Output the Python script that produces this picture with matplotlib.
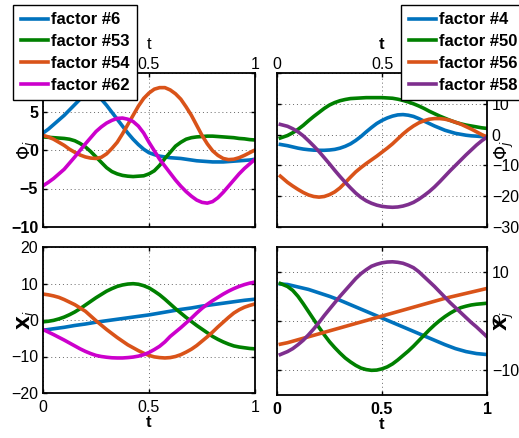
import matplotlib
matplotlib.use('Agg')
import matplotlib.pyplot as plt

plt.rcParams['font.family'] = ['Liberation Sans', 'DejaVu Sans']
plt.rcParams['mathtext.fontset'] = 'dejavusans'

# time grids
t_left = [0.0, 0.025, 0.05, 0.075, 0.1, 0.125, 0.15, 0.175, 0.2, 0.225,
          0.25, 0.275, 0.3, 0.325, 0.35, 0.375, 0.4, 0.425, 0.45, 0.475,
          0.5, 0.525, 0.55, 0.575, 0.6, 0.625, 0.65, 0.675, 0.7, 0.725,
          0.75, 0.775, 0.8, 0.825, 0.85, 0.875, 0.9, 0.925, 0.95, 0.975, 1.0]
t_right = [0.016, 0.05, 0.075, 0.1, 0.125, 0.15, 0.175, 0.2, 0.225,
           0.25, 0.275, 0.3, 0.325, 0.35, 0.375, 0.4, 0.425, 0.45, 0.475,
           0.5, 0.525, 0.55, 0.575, 0.6, 0.625, 0.65, 0.675, 0.7, 0.725,
           0.75, 0.775, 0.8, 0.825, 0.85, 0.875, 0.9, 0.925, 0.95, 0.975, 1.0]

# top left, phi_i
labels_tl = ['factor #6', 'factor #53', 'factor #54', 'factor #62']
phi_6 = [2.2, 2.7, 3.3, 3.9, 4.5, 5.2, 5.9, 6.6, 7.2, 7.5,
         7.3, 6.6, 5.8, 4.9, 4.0, 3.1, 2.2, 1.4, 0.7, 0.1,
         -0.35, -0.6, -0.8, -0.9, -1.0, -1.05, -1.1, -1.2, -1.3, -1.4,
         -1.45, -1.5, -1.55, -1.55, -1.55, -1.5, -1.45, -1.4, -1.35, -1.3, -1.2]
phi_53 = [1.7, 1.65, 1.6, 1.55, 1.5, 1.4, 1.2, 0.85, 0.4, -0.2,
          -0.9, -1.6, -2.3, -2.8, -3.1, -3.3, -3.4, -3.45, -3.4, -3.35,
          -3.1, -2.7, -2.0, -1.1, -0.3, 0.5, 1.0, 1.4, 1.6, 1.7,
          1.75, 1.8, 1.8, 1.75, 1.7, 1.65, 1.6, 1.5, 1.45, 1.35, 1.3]
phi_54 = [1.9, 1.7, 1.4, 1.0, 0.6, 0.1, -0.3, -0.65, -0.9, -1.05,
          -1.1, -0.95, -0.5, 0.2, 1.0, 2.1, 3.3, 4.5, 5.7, 6.7,
          7.4, 7.9, 8.1, 8.1, 7.8, 7.3, 6.6, 5.6, 4.5, 3.2,
          1.9, 0.8, -0.1, -0.7, -1.1, -1.25, -1.2, -1.0, -0.7, -0.35, 0.0]
phi_62 = [-4.65, -4.2, -3.7, -3.1, -2.5, -1.7, -0.9, -0.05, 0.8, 1.6,
          2.4, 3.0, 3.5, 3.85, 4.1, 4.15, 4.0, 3.7, 3.1, 2.2,
          1.0, -0.1, -1.2, -2.1, -3.0, -3.9, -4.7, -5.4, -6.0, -6.5,
          -6.8, -6.9, -6.7, -6.2, -5.5, -4.7, -3.9, -3.1, -2.4, -1.8, -1.2]

# top right, phi_j
labels_tr = ['factor #4', 'factor #50', 'factor #56', 'factor #58']
phi_4 = [-3.2, -3.6, -4.0, -4.4, -4.7, -4.9, -5.05, -5.1, -5.1,
         -5.0, -4.8, -4.4, -3.8, -3.0, -1.9, -0.6, 0.9, 2.3, 3.6,
         4.6, 5.4, 6.0, 6.4, 6.5, 6.3, 5.9, 5.2, 4.4, 3.6,
         2.8, 2.1, 1.4, 0.9, 0.4, 0.1, -0.2, -0.4, -0.5, -0.65, -0.8]
phi_50 = [-1.1, -0.3, 0.6, 1.7, 3.0, 4.5, 5.9, 7.2, 8.5,
          9.6, 10.4, 11.0, 11.4, 11.7, 11.8, 11.9, 12.0, 12.0, 12.0,
          12.0, 11.9, 11.8, 11.5, 11.1, 10.6, 10.0, 9.3, 8.5, 7.6,
          6.8, 6.0, 5.3, 4.6, 4.0, 3.5, 3.1, 2.8, 2.5, 2.2, 2.0]
phi_56 = [-13.5, -15.5, -16.7, -17.8, -18.8, -19.6, -20.1, -20.3, -20.1,
          -19.5, -18.6, -17.3, -15.6, -13.8, -12.1, -10.7, -9.4, -8.2, -7.0,
          -5.7, -4.4, -3.0, -1.4, 0.2, 1.6, 2.8, 3.8, 4.5, 5.0,
          5.2, 5.2, 5.0, 4.6, 4.0, 3.4, 2.6, 1.8, 0.9, 0.0, -0.8]
phi_58 = [3.3, 2.7, 1.9, 0.9, -0.4, -2.0, -3.7, -5.5, -7.5,
          -9.5, -11.6, -13.6, -15.5, -17.3, -19.0, -20.4, -21.5, -22.3, -22.9,
          -23.3, -23.5, -23.6, -23.5, -23.2, -22.7, -22.0, -21.0, -19.8, -18.5,
          -17.0, -15.3, -13.5, -11.7, -10.0, -8.3, -6.6, -5.0, -3.4, -2.0, -0.8]

# bottom left, x_i
x_6 = [-2.8, -2.6, -2.4, -2.2, -2.0, -1.75, -1.5, -1.3, -1.1, -0.85,
       -0.6, -0.4, -0.2, 0.0, 0.2, 0.4, 0.6, 0.8, 1.0, 1.2,
       1.4, 1.65, 1.9, 2.15, 2.4, 2.65, 2.9, 3.1, 3.3, 3.55,
       3.8, 4.0, 4.2, 4.4, 4.6, 4.8, 5.0, 5.2, 5.4, 5.55, 5.7]
x_53 = [-0.5, -0.35, -0.1, 0.3, 0.8, 1.45, 2.2, 3.1, 4.1, 5.1,
        6.1, 7.0, 7.9, 8.6, 9.2, 9.6, 9.85, 9.95, 9.8, 9.4,
        8.8, 7.9, 6.9, 5.7, 4.4, 3.1, 1.9, 0.7, -0.4, -1.5,
        -2.5, -3.5, -4.5, -5.3, -6.0, -6.6, -7.1, -7.4, -7.6, -7.8, -7.9]
x_54 = [7.1, 6.9, 6.6, 6.2, 5.6, 4.9, 4.2, 3.3, 2.4, 1.1,
        -0.2, -1.4, -2.6, -3.7, -4.8, -5.8, -6.8, -7.6, -8.4, -9.1,
        -9.7, -10.1, -10.3, -10.4, -10.3, -10.0, -9.5, -8.8, -8.0, -7.0,
        -5.8, -4.6, -3.3, -1.9, -0.6, 0.7, 1.9, 2.8, 3.5, 4.0, 4.4]
x_62 = [-2.6, -3.3, -4.0, -4.75, -5.5, -6.3, -7.1, -7.9, -8.6, -9.2,
        -9.7, -10.0, -10.2, -10.35, -10.4, -10.4, -10.3, -10.15, -9.9, -9.5,
        -8.9, -8.1, -7.2, -6.0, -4.5, -3.3, -2.1, -0.8, 0.5, 1.9,
        3.2, 4.3, 5.3, 6.2, 7.1, 7.9, 8.6, 9.2, 9.7, 10.1, 10.4]

# bottom right, x_j
x_4 = [7.5, 7.4, 7.15, 6.9, 6.65, 6.4, 6.05, 5.7, 5.35,
       5.0, 4.6, 4.2, 3.75, 3.3, 2.85, 2.4, 1.95, 1.5, 1.05,
       0.6, 0.15, -0.3, -0.75, -1.2, -1.65, -2.1, -2.55, -3.0, -3.45,
       -3.9, -4.35, -4.8, -5.2, -5.6, -5.9, -6.2, -6.4, -6.6, -6.7, -6.8]
x_50 = [7.6, 7.0, 6.2, 5.0, 3.5, 1.9, 0.3, -1.3, -2.8,
        -4.2, -5.4, -6.5, -7.5, -8.3, -9.0, -9.55, -9.85, -10.0, -9.95,
        -9.7, -9.3, -8.7, -7.9, -7.0, -6.1, -5.1, -4.0, -2.9, -1.8,
        -0.8, 0.1, 0.9, 1.6, 2.2, 2.7, 3.0, 3.25, 3.4, 3.5, 3.6]
x_56 = [-4.7, -4.4, -4.1, -3.8, -3.5, -3.2, -2.9, -2.6, -2.3,
        -2.0, -1.7, -1.4, -1.1, -0.8, -0.5, -0.2, 0.1, 0.4, 0.7,
        1.0, 1.3, 1.6, 1.9, 2.2, 2.5, 2.8, 3.1, 3.4, 3.7,
        4.0, 4.3, 4.6, 4.85, 5.1, 5.35, 5.6, 5.85, 6.1, 6.35, 6.6]
x_58 = [-6.8, -6.2, -5.6, -4.8, -3.9, -2.8, -1.6, -0.3, 1.1,
        2.4, 3.7, 5.0, 6.2, 7.4, 8.6, 9.6, 10.4, 11.1, 11.5,
        11.8, 11.95, 12.0, 11.9, 11.7, 11.3, 10.8, 10.0, 9.0, 8.0,
        7.0, 5.9, 4.8, 3.7, 2.7, 1.7, 0.7, -0.3, -1.2, -2.2, -3.2]

colors_left = ['#0072bd', '#008000', '#d95319', '#cc00cc']
colors_right = ['#0072bd', '#008000', '#d95319', '#7e2f8e']

fig = plt.figure(figsize=(5.19, 4.38), dpi=100)
ax_tl = fig.add_axes([43/519, 1-227/438, 212/519, 154/438])
ax_tr = fig.add_axes([277/519, 1-227/438, 210/519, 154/438])
ax_bl = fig.add_axes([43/519, 1-393/438, 212/519, 146/438])
ax_br = fig.add_axes([277/519, 1-395/438, 210/519, 148/438])


def style(ax, weight):
    ax.set_xlim(0, 1)
    ax.set_xticks([0, 0.5, 1])
    ax.set_xticklabels(['0', '0.5', '1'])
    ax.grid(True, color='#666666', linestyle=(0, (1, 3)), linewidth=0.7)
    ax.tick_params(direction='in', length=3, labelsize=11.5, width=1,
                   top=True, right=True, bottom=True, left=True)
    for lab in ax.get_xticklabels() + ax.get_yticklabels():
        lab.set_fontweight(weight)
    for sp in ax.spines.values():
        sp.set_linewidth(1.3)


lw = 2.6

for s, c in zip([phi_6, phi_53, phi_54, phi_62], colors_left):
    ax_tl.plot(t_left, s, color=c, lw=lw)
ax_tl.set_ylim(-10, 10)
ax_tl.set_yticks([-10, -5, 0, 5, 10])
style(ax_tl, 'bold')
ax_tl.xaxis.tick_top()
ax_tl.tick_params(axis='x', direction='in', bottom=True, pad=0.5)
ax_tl.xaxis.set_label_position('top')
ax_tl.set_xlabel('t', fontsize=12, labelpad=6)
ax_tl.set_ylabel(r'$\Phi_i$', fontsize=13)
ax_tl.yaxis.set_label_coords(-0.04, 0.5)

for s, c in zip([phi_4, phi_50, phi_56, phi_58], colors_right):
    ax_tr.plot(t_right, s, color=c, lw=lw)
ax_tr.set_ylim(-30, 20)
ax_tr.set_yticks([-30, -20, -10, 0, 10, 20])
style(ax_tr, 'bold')
ax_tr.xaxis.tick_top()
ax_tr.yaxis.tick_right()
ax_tr.tick_params(axis='x', direction='in', bottom=True, pad=0.5)
ax_tr.tick_params(axis='y', direction='in', left=True)
ax_tr.xaxis.set_label_position('top')
ax_tr.yaxis.set_label_position('right')
ax_tr.set_xlabel('t', fontsize=12, fontweight='bold', labelpad=6)
ax_tr.set_ylabel(r'$\Phi_j$', fontsize=13, rotation=90)
ax_tr.yaxis.set_label_coords(1.03, 0.5)

for s, c in zip([x_6, x_53, x_54, x_62], colors_left):
    ax_bl.plot(t_left, s, color=c, lw=lw)
ax_bl.set_ylim(-20, 20)
ax_bl.set_yticks([-20, -10, 0, 10, 20])
style(ax_bl, 'normal')
ax_bl.tick_params(axis='x', pad=5)
ax_bl.set_xlabel('t', fontsize=12, fontweight='bold', labelpad=0)
ax_bl.set_ylabel(r'$\mathbf{X}_i$', fontsize=13)
ax_bl.yaxis.set_label_coords(-0.04, 0.5)

for s, c in zip([x_4, x_50, x_56, x_58], colors_right):
    ax_br.plot(t_right, s, color=c, lw=lw)
ax_br.set_ylim(-15, 15)
ax_br.set_yticks([-10, 0, 10])
style(ax_br, 'bold')
ax_br.yaxis.tick_right()
ax_br.tick_params(axis='y', direction='in', left=True)
ax_br.tick_params(axis='x', pad=5)
ax_br.yaxis.set_label_position('right')
ax_br.set_xlabel('t', fontsize=12, fontweight='bold', labelpad=0)
ax_br.set_ylabel(r'$\mathbf{X}_j$', fontsize=13, rotation=90)
ax_br.yaxis.set_label_coords(1.03, 0.5)

leg_kw = dict(loc='upper left', bbox_transform=fig.transFigure, borderaxespad=0,
              fancybox=False, framealpha=1, edgecolor='black', handlelength=1.65,
              handletextpad=0.2, borderpad=0.45, labelspacing=0.4,
              prop={'weight': 'bold', 'size': 12})
leg = ax_tl.legend(labels_tl, bbox_to_anchor=(13/519, 1-5/438), **leg_kw)
leg.get_frame().set_linewidth(1.0)
leg = ax_tr.legend(labels_tr, bbox_to_anchor=(401/519, 1-5/438), **leg_kw)
leg.get_frame().set_linewidth(1.0)

fig.savefig('out.png', dpi=100)
